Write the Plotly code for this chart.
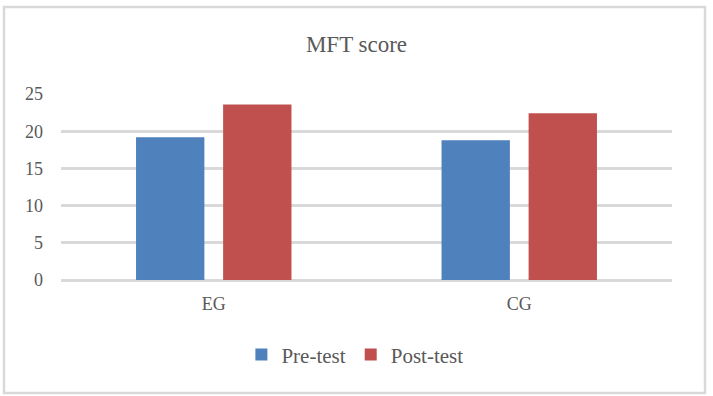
import plotly.graph_objects as go

categories = ["EG", "CG"]
pre_test = [19.2, 18.8]
post_test = [23.6, 22.4]
y_ticks = [0, 5, 10, 15, 20, 25]

FONT = "Liberation Serif"
TXT = "#595959"
GRID = "#d9d9d9"

fig = go.Figure()
fig.add_trace(go.Bar(name="Pre-test", x=categories, y=pre_test,
                     marker=dict(color="#4f81bd", line=dict(width=0))))
fig.add_trace(go.Bar(name="Post-test", x=categories, y=post_test,
                     marker=dict(color="#c0504d", line=dict(width=0))))

fig.update_layout(
    width=713, height=396,
    margin=dict(l=61, r=41, t=94, b=116),
    paper_bgcolor="white", plot_bgcolor="white",
    barmode="group", bargap=0.43, bargroupgap=0.215,
    font=dict(family=FONT, color=TXT),
    title=dict(text="MFT score", x=0.5, xref="container", xanchor="center",
               y=1 - 44 / 396, yref="container", yanchor="middle",
               font=dict(family=FONT, size=23, color=TXT)),
    showlegend=True,
    legend=dict(orientation="h", x=0.481, xanchor="center", y=-0.403,
                yanchor="middle", font=dict(family=FONT, size=21, color=TXT),
                bgcolor="rgba(0,0,0,0)"),
    xaxis=dict(showgrid=False, showline=False, zeroline=False, ticks="",
               tickfont=dict(family=FONT, size=18, color=TXT),
               ticklabelstandoff=11),
    yaxis=dict(range=[0, 25], tickvals=y_ticks, showgrid=True, gridcolor=GRID,
               gridwidth=2.5, zeroline=True, zerolinecolor=GRID, zerolinewidth=2.5,
               showline=False, ticks="", ticklabelstandoff=17,
               tickfont=dict(family=FONT, size=18, color=TXT)),
    shapes=[dict(type="rect", xref="paper", yref="paper",
                 x0=(4 - 61) / 611, x1=(705 - 61) / 611,
                 y0=(280 - 393) / 186, y1=(280 - 7) / 186,
                 line=dict(color=GRID, width=2.5), fillcolor="rgba(0,0,0,0)",
                 layer="below")],
)

fig.write_html("out.html", config={"displayModeBar": False},
               post_script="document.body.style.margin='0';document.body.style.padding='0';")
